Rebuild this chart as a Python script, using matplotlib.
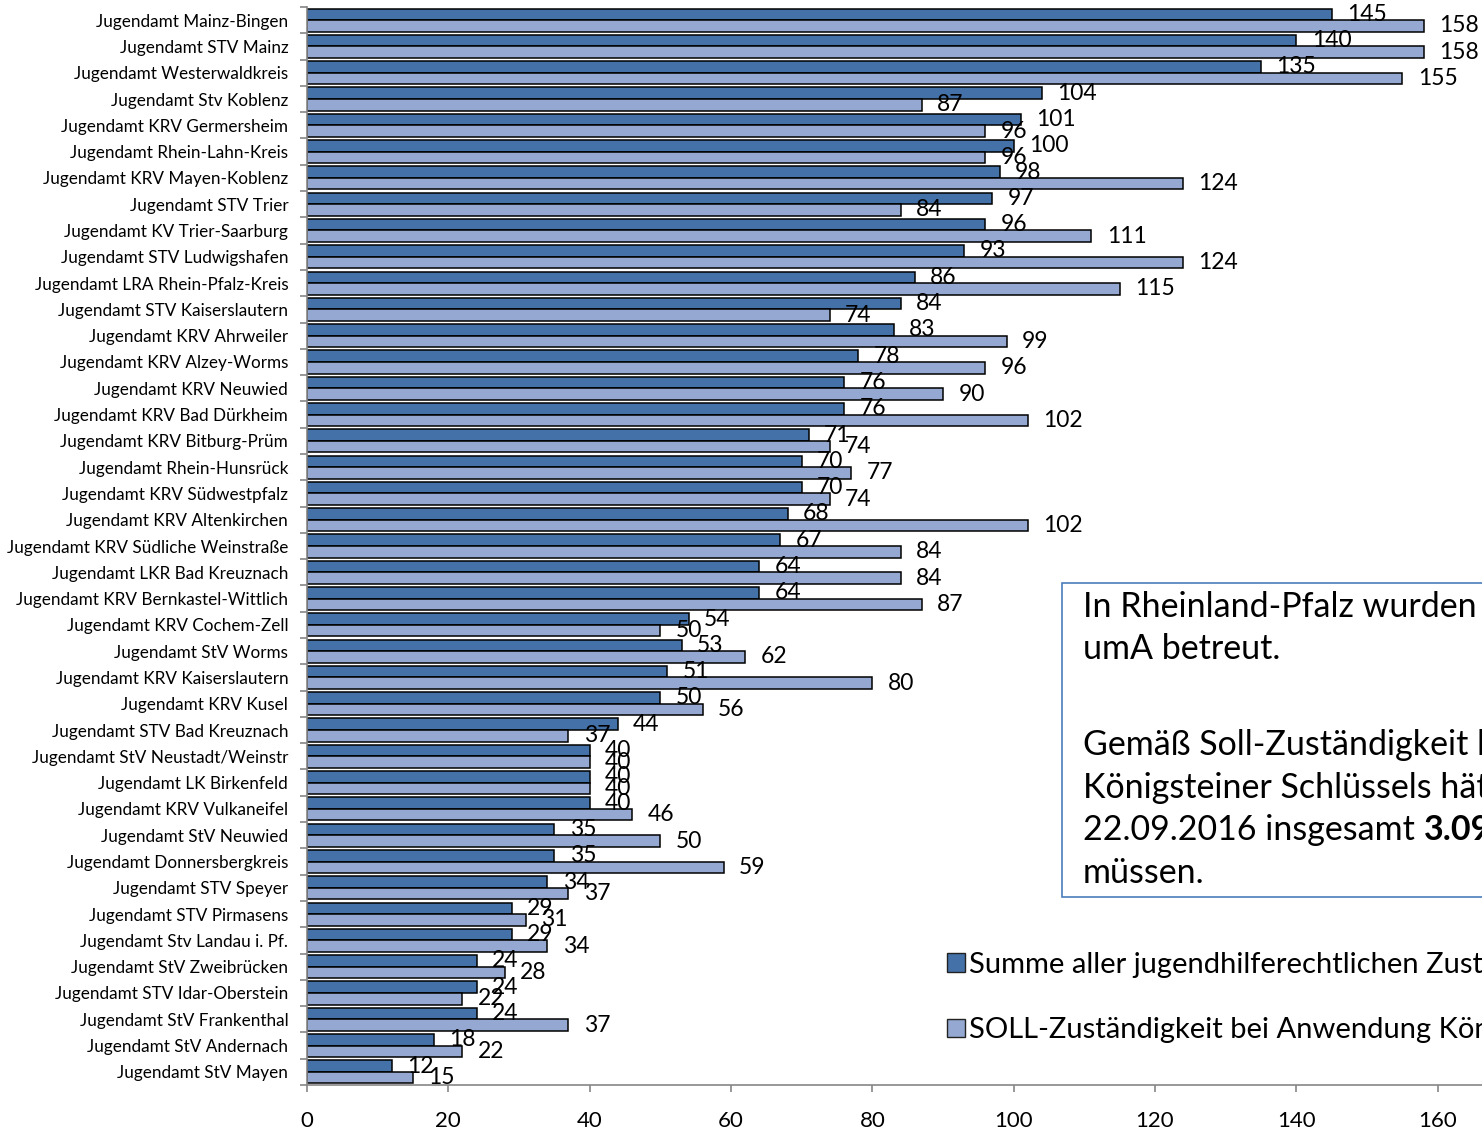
import numpy as np
import matplotlib.pyplot as plt
from matplotlib.patches import Rectangle

plt.rcParams['font.family'] = ['Lato', 'DejaVu Sans']

# Data (top to bottom as shown)
categories = [
    "Jugendamt Mainz-Bingen", "Jugendamt STV Mainz", "Jugendamt Westerwaldkreis",
    "Jugendamt Stv Koblenz", "Jugendamt KRV Germersheim", "Jugendamt Rhein-Lahn-Kreis",
    "Jugendamt KRV Mayen-Koblenz", "Jugendamt STV Trier", "Jugendamt KV Trier-Saarburg",
    "Jugendamt STV Ludwigshafen", "Jugendamt LRA Rhein-Pfalz-Kreis", "Jugendamt STV Kaiserslautern",
    "Jugendamt KRV Ahrweiler", "Jugendamt KRV Alzey-Worms", "Jugendamt KRV Neuwied",
    "Jugendamt KRV Bad Dürkheim", "Jugendamt KRV Bitburg-Prüm", "Jugendamt Rhein-Hunsrück",
    "Jugendamt KRV Südwestpfalz", "Jugendamt KRV Altenkirchen", "Jugendamt KRV Südliche Weinstraße",
    "Jugendamt LKR Bad Kreuznach", "Jugendamt KRV Bernkastel-Wittlich", "Jugendamt KRV Cochem-Zell",
    "Jugendamt StV Worms", "Jugendamt KRV Kaiserslautern", "Jugendamt KRV Kusel",
    "Jugendamt STV Bad Kreuznach", "Jugendamt StV Neustadt/Weinstr", "Jugendamt LK Birkenfeld",
    "Jugendamt KRV Vulkaneifel", "Jugendamt StV Neuwied", "Jugendamt Donnersbergkreis",
    "Jugendamt STV Speyer", "Jugendamt STV Pirmasens", "Jugendamt Stv Landau i. Pf.",
    "Jugendamt StV Zweibrücken", "Jugendamt STV Idar-Oberstein", "Jugendamt StV Frankenthal",
    "Jugendamt StV Andernach", "Jugendamt StV Mayen",
]
summe = [145, 140, 135, 104, 101, 100, 98, 97, 96, 93, 86, 84, 83, 78, 76, 76, 71, 70, 70, 68,
         67, 64, 64, 54, 53, 51, 50, 44, 40, 40, 40, 35, 35, 34, 29, 29, 24, 24, 24, 18, 12]
soll = [158, 158, 155, 87, 96, 96, 124, 84, 111, 124, 115, 74, 99, 96, 90, 102, 74, 77, 74, 102,
        84, 84, 87, 50, 62, 80, 56, 37, 40, 40, 46, 50, 59, 37, 31, 34, 28, 22, 37, 22, 15]
series_labels = [
    "Summe aller jugendhilferechtlichen Zuständigkeiten",
    "SOLL-Zuständigkeit bei Anwendung Königsteiner Schlüssel",
]
x_ticks = [0, 20, 40, 60, 80, 100, 120, 140, 160, 180]

DARK = '#4471A8'
LIGHT = '#94A8D1'
GRAY = '#868686'
BOX = '#4A7EBB'

W, H = 1482, 1132
fig = plt.figure(figsize=(W / 100, H / 100), dpi=100)
# axes reaches past the right edge, the original picture is cut off there
ax = fig.add_axes([307 / W, 47 / H, 1272 / W, 1078 / H])

n = len(categories)
y = np.arange(n)
bh = 0.44
b1 = ax.barh(y - bh / 2, summe, height=bh, color=DARK, edgecolor='black',
             linewidth=1.1, label=series_labels[0])
b2 = ax.barh(y + bh / 2, soll, height=bh, color=LIGHT, edgecolor='black',
             linewidth=1.1, label=series_labels[1])
ax.bar_label(b1, padding=11, fontsize=16.5)
ax.bar_label(b2, padding=11, fontsize=16.5)

ax.set_xlim(0, 180)
ax.set_ylim(n - 0.5, -0.5)

for s in ['top', 'right']:
    ax.spines[s].set_visible(False)
for s in ['left', 'bottom']:
    ax.spines[s].set_color(GRAY)
    ax.spines[s].set_linewidth(1.2)

ax.set_yticks(y, categories)
ax.set_yticks(np.arange(-0.5, n), minor=True)
ax.tick_params(axis='y', which='major', length=0, pad=13.5, labelsize=12.3)
ax.tick_params(axis='y', which='minor', length=5, color=GRAY, width=1.2)
ax.set_xticks(x_ticks)
ax.tick_params(axis='x', length=5, color=GRAY, width=1.2, pad=14, labelsize=16)

# text box
fig.add_artist(Rectangle((1062 / W, (H - 897) / H), 600 / W, (897 - 583) / H,
                         transform=fig.transFigure, facecolor='white',
                         edgecolor=BOX, linewidth=1.2, zorder=3))

ist_total = f"{sum(summe):,}".replace(',', '.')
soll_total = f"{sum(soll):,}".replace(',', '.')
box_fs = 24.5
lines = [
    (617, f"In Rheinland-Pfalz wurden am 22.09.2016 insgesamt {ist_total}"),
    (659, "umA betreut."),
    (755, "Gemäß Soll-Zuständigkeit bei Anwendung des"),
    (798, "Königsteiner Schlüssels hätten die Jugendämter am"),
    (840, "22.09.2016 insgesamt "),
    (883, "müssen."),
]
txt = {}
for base, s in lines:
    txt[base] = fig.text(1083 / W, (H - base) / H, s, fontsize=box_fs, va='baseline',
                         ha='left', zorder=4)

# bold number right after "insgesamt", then the rest of the line
fig.canvas.draw()
x0 = txt[840].get_window_extent().x1
bold = fig.text(x0 / W, (H - 840) / H, soll_total, fontsize=box_fs, fontweight='bold',
                va='baseline', ha='left', zorder=4)
fig.canvas.draw()
x1 = bold.get_window_extent().x1
fig.text(x1 / W, (H - 840) / H, " umA betreuen", fontsize=box_fs,
         va='baseline', ha='left', zorder=4)

handles = [Rectangle((0, 0), 1, 1, facecolor=DARK, edgecolor='#222222', linewidth=1),
           Rectangle((0, 0), 1, 1, facecolor=LIGHT, edgecolor='#222222', linewidth=1)]
fig.legend(handles, series_labels, loc='upper left',
           bbox_to_anchor=(947 / W, (H - 952) / H), bbox_transform=fig.transFigure,
           frameon=False, fontsize=21, handlelength=0.6, handleheight=0.6,
           handletextpad=0.15, labelspacing=1.35, borderpad=0, borderaxespad=0)

fig.savefig('out.png', dpi=100)
